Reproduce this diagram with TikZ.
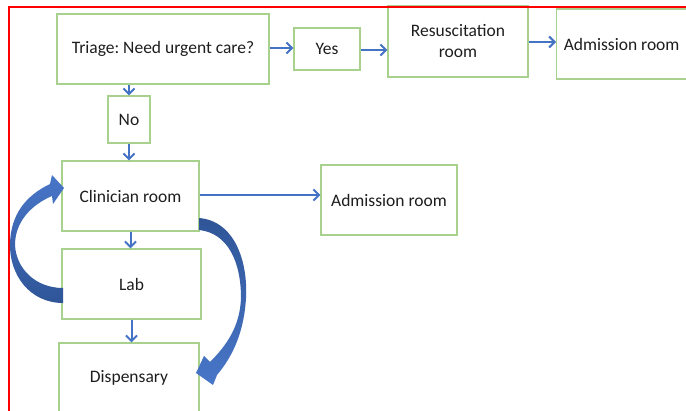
\documentclass[tikz,border=0pt]{standalone}
\usepackage{fontspec}
\setmainfont{Carlito}
\frenchspacing
\usetikzlibrary{arrows.meta}
\definecolor{boxgreen}{RGB}{169,209,142}
\definecolor{linkblue}{RGB}{68,114,196}
\definecolor{arrdark}{RGB}{47,85,151}
\definecolor{arrlight}{RGB}{72,118,200}
\definecolor{frame}{RGB}{255,0,0}
\definecolor{txt}{RGB}{30,30,30}
\begin{document}
\begin{tikzpicture}[x=1pt,y=-1pt,
  flowbox/.style={draw=boxgreen, line width=1.3pt, fill=white, inner sep=0pt, align=center,
    text=txt, font=\fontsize{17.5}{21}\selectfont},
  link/.style={draw=linkblue, line width=2pt, -{Straight Barb[length=5.5pt,width=11pt,line width=2pt]}},
]
\useasboundingbox (0,0) rectangle (686,411);

% nodes
\node[flowbox, minimum width=212pt, minimum height=70pt] (triage) at (163,49) {Triage: Need urgent care?};
\node[flowbox, minimum width=66pt, minimum height=42pt] (yes) at (327,49) {Yes};
\node[flowbox, minimum width=140pt, minimum height=71pt] (resus) at (458,41.5) {Resuscitation\\room};
\node[flowbox, minimum width=140pt, minimum height=70pt, anchor=west] (adm1) at (556,44) {\hspace*{-10pt}Admission room};
\node[flowbox, minimum width=42pt, minimum height=47pt] (no) at (129,119.5) {No};
\node[flowbox, minimum width=137pt, minimum height=70pt] (clin) at (130.5,196) {Clinician room};
\node[flowbox, minimum width=139pt, minimum height=70pt] (lab) at (131.5,284) {Lab};
\node[flowbox, minimum width=140pt, minimum height=70pt] (disp) at (129,378) {Dispensary};
\node[flowbox, minimum width=136pt, minimum height=70pt] (adm2) at (389,200) {Admission room};

% frame
\draw[frame, line width=2pt] (8.5,430) -- (8.5,7) -- (700,7);

% connectors
\draw[link] ([yshift=1pt]triage.east) -- ([yshift=1pt]yes.west);
\draw[link] ([yshift=-1pt]yes.east) -- ([yshift=-1pt]yes.east -| resus.west);
\draw[link] (resus.east |- adm1.west) ++(0,2pt) -- ([yshift=2pt]adm1.west);
\draw[link] (no.north |- triage.south) -- (no.north);
\draw[link] (no.south) -- (no.south |- clin.north);
\draw[link] (clin.south) -- (clin.south |- lab.north);
\draw[link] (lab.south) -- (lab.south |- disp.north);
\draw[link] ([yshift=1pt]clin.east) -- ([yshift=1pt]clin.east -| adm2.west);

% thick curved arrow: Lab back to Clinician room
\shade[top color=arrlight, bottom color=arrdark]
  (63,303) .. controls (30,303) and (9,275) .. (10,243)
  .. controls (11,215) and (25,196) .. (50,184)
  -- (52,175) -- (64,188) -- (53,204) -- (52,196)
  .. controls (31,205) and (15,222) .. (15,245)
  .. controls (16,268) and (35,288) .. (63,288) -- cycle;

% thick curved arrow: Clinician room to Dispensary
\shade[top color=arrdark, bottom color=arrlight]
  (199,218) .. controls (235,221) and (248,262) .. (246,298)
  .. controls (244,332) and (233,356) .. (217,375)
  -- (213,385) -- (196,373) -- (204,356) -- (210,362)
  .. controls (227,345) and (240,326) .. (241,298)
  .. controls (241,262) and (228,233) .. (199,230) -- cycle;
\end{tikzpicture}
\end{document}
